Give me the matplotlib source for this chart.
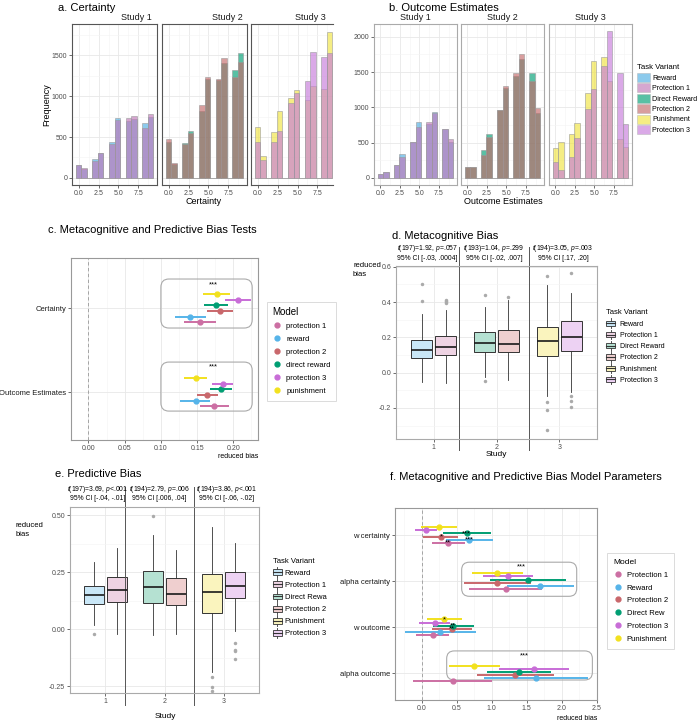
import numpy as np
import matplotlib
matplotlib.use("Agg")
import matplotlib.pyplot as plt
from matplotlib.patches import Patch, FancyBboxPatch, Rectangle
from matplotlib.lines import Line2D
from matplotlib.legend_handler import HandlerBase
from matplotlib.ticker import MultipleLocator, FormatStrFormatter
import matplotlib.transforms as mtransforms

plt.rcParams['font.family'] = ['Liberation Sans', 'DejaVu Sans']
plt.rcParams['mathtext.fontset'] = 'custom'
plt.rcParams['mathtext.it'] = 'Liberation Sans:italic'
plt.rcParams['mathtext.rm'] = 'Liberation Sans'
plt.rcParams['axes.unicode_minus'] = False

W, H = 700, 722

# colours per task variant
C_REWARD = '#4FAEE3'
C_PROT1 = '#C078B8'
C_DIRECT = '#009E73'
C_PROT2 = '#C46A6A'
C_PUNISH = '#F0E442'
C_PROT3 = '#C77CDB'

variants = ['Reward', 'Protection 1', 'Direct Reward', 'Protection 2', 'Punishment', 'Protection 3']
variant_colors = [C_REWARD, C_PROT1, C_DIRECT, C_PROT2, C_PUNISH, C_PROT3]
pale_colors = ['#C9E7F7', '#EED3E3', '#B5E1D2', '#EFCFCF', '#FAF4BE', '#EDD2F3']
# dot colours for the model panels (c, f)
model_colors = ['#CC6FA3', '#56B4E9', '#C9676B', '#009E73', '#C86DD7', '#F2E11E']

# ---- histogram data: counts of each integer response 0..9 ----
response_values = np.arange(10)
cert_reward = [158, 106, 228, 306, 445, 734, 698, 722, 673, 747]
cert_prot1 = [155, 125, 200, 300, 416, 706, 738, 759, 616, 783]
cert_direct = [435, 171, 425, 577, 821, 1215, 1200, 1406, 1321, 1528]
cert_prot2 = [476, 183, 420, 549, 894, 1236, 1210, 1467, 1232, 1423]
cert_punish = [618, 272, 561, 817, 976, 1077, 951, 1122, 1090, 1793]
cert_prot3 = [439, 224, 439, 577, 915, 1037, 1187, 1537, 1480, 1528]

out_reward = [57, 80, 189, 340, 514, 792, 759, 929, 693, 514]
out_prot1 = [52, 85, 185, 302, 505, 722, 797, 925, 690, 552]
out_direct = [151, 151, 391, 623, 962, 1269, 1448, 1679, 1481, 915]
out_prot2 = [151, 151, 325, 575, 962, 1302, 1490, 1755, 1377, 990]
out_punish = [420, 509, 623, 774, 1198, 1660, 1708, 1373, 547, 434]
out_prot3 = [222, 113, 302, 561, 976, 1259, 1585, 2080, 1481, 764]

studies = ['Study 1', 'Study 2', 'Study 3']

# ---- panel c: bias tests (certainty, outcome estimates) ----
models_c = ['protection 1', 'reward', 'protection 2', 'direct reward', 'protection 3', 'punishment']
tests_c = ['Certainty', 'Outcome Estimates']
c_est = [[0.154, 0.1737], [0.140, 0.148], [0.1816, 0.164], [0.1754, 0.183], [0.206, 0.1855], [0.1768, 0.148]]
c_lo = [[0.1316, 0.154], [0.119, 0.127], [0.164, 0.150], [0.159, 0.168], [0.189, 0.171], [0.158, 0.132]]
c_hi = [[0.176, 0.194], [0.162, 0.168], [0.199, 0.179], [0.193, 0.198], [0.224, 0.200], [0.1956, 0.164]]

# ---- panels d/e: boxplot summaries, order = variants ----
box_study = [1, 1, 2, 2, 3, 3]
d_whislo = [-0.051, -0.060, -0.024, -0.041, -0.130, -0.109]
d_q1 = [0.081, 0.100, 0.119, 0.119, 0.096, 0.120]
d_med = [0.128, 0.145, 0.167, 0.164, 0.181, 0.203]
d_q3 = [0.183, 0.207, 0.228, 0.243, 0.256, 0.290]
d_whishi = [0.333, 0.356, 0.369, 0.412, 0.495, 0.453]
d_fliers = [[0.50, 0.406], [0.412, 0.406, 0.399, 0.393], [0.437, -0.045], [0.429],
            [0.546, -0.166, -0.213, -0.326], [0.566, -0.134, -0.158, -0.194]]
d_tests = [r'$t$(197)=1.92, $p$=.057' + '\n95% CI [-.03, .0004]',
           r'$t$(193)=1.04, $p$=.299' + '\n95% CI [-.02, .007]',
           r'$t$(194)=3.05, $p$=.003' + '\n95% CI [.17, .20]']

e_whislo = [0.018, -0.023, -0.025, -0.019, -0.186, -0.006]
e_q1 = [0.110, 0.118, 0.114, 0.107, 0.070, 0.136]
e_med = [0.149, 0.174, 0.187, 0.156, 0.161, 0.190]
e_q3 = [0.189, 0.228, 0.257, 0.224, 0.243, 0.249]
e_whishi = [0.294, 0.357, 0.411, 0.348, 0.449, 0.376]
e_fliers = [[-0.020], [], [0.496], [], [-0.208, -0.253, -0.270], [-0.061, -0.092, -0.096, -0.132]]
e_tests = [r'$t$(197)=3.69, $p$<.001' + '\n95% CI [-.04, -.01]',
           r'$t$(194)=2.79, $p$=.006' + '\n95% CI [.006, .04]',
           r'$t$(194)=3.86, $p$<.001' + '\n95% CI [-.06, -.02]']
e_legend_labels = ['Reward', 'Protection 1', 'Direct Rewa', 'Protection 2', 'Punishment', 'Protection 3']

# ---- panel f: model parameters ----
params_f = ['w certainty', 'alpha certainty', 'w outcome', 'alpha outcome']
models_f = ['Protection 1', 'Reward', 'Protection 2', 'Direct Rew', 'Protection 3', 'Punishment']
f_est = [[0.381, 1.200, 0.157, 0.452], [0.676, 1.690, 0.267, 1.633], [0.276, 1.081, 0.429, 1.333],
         [0.643, 1.514, 0.452, 1.390], [0.062, 1.233, 0.186, 1.605], [0.243, 1.081, 0.319, 0.752]]
f_lo = [[0.152, 0.681, -0.081, -0.119], [0.348, 1.214, -0.238, 0.890], [0.019, 0.605, 0.143, 0.786],
        [0.310, 0.976, 0.167, 0.929], [-0.095, 0.881, -0.033, 1.105], [-0.010, 0.724, 0.071, 0.395]]
f_hi = [[0.614, 1.724, 0.395, 1.010], [1.014, 2.176, 0.776, 2.371], [0.524, 1.557, 0.714, 1.886],
        [0.986, 2.057, 0.752, 1.852], [0.214, 1.586, 0.405, 2.110], [0.510, 1.443, 0.571, 1.124]]
# significance stars: (parameter index, model index, label)
f_stars = [(0, 3, '***'), (0, 1, '***'), (0, 2, '*'), (0, 0, '**'),
           (2, 5, '*'), (2, 3, '**'), (2, 2, '**')]

fig = plt.figure(figsize=(W / 100, H / 100), dpi=100)


def px_axes(x0, y0, x1, y1):
    return fig.add_axes([x0 / W, 1 - y1 / H, (x1 - x0) / W, (y1 - y0) / H])


def ftext(x, y, s, **kw):
    fig.text(x / W, 1 - y / H, s, **kw)


def style_axes(ax, spine_color='#999999'):
    for s in ax.spines.values():
        s.set_color(spine_color)
        s.set_linewidth(0.8)
    ax.tick_params(which='both', labelsize=5, labelcolor='#4D4D4D', length=2, width=0.5,
                   color='#333333', pad=1.5)
    ax.tick_params(which='minor', length=0)
    ax.set_axisbelow(True)
    ax.grid(which='major', color='#E8E8E8', lw=0.6)
    ax.grid(which='minor', color='#F4F4F4', lw=0.4)


# ================= panels a and b: histograms =================
bin_edges = np.linspace(-9 / 26, 9 + 9 / 26, 15)
HIST_ALPHA = 0.65


def hist_row(boxes, series, ylim, ymajor, spine_color, right_cut=False):
    axes = []
    for k, (x0, x1) in enumerate(boxes):
        ax = px_axes(x0, 24, x1, 185)
        style_axes(ax, spine_color)
        for vals, col in series[k]:
            ax.hist(response_values, bins=bin_edges, weights=vals, color=col, alpha=HIST_ALPHA,
                    edgecolor=(0.6, 0.6, 0.6, 0.5), linewidth=0.6)
        ax.set_ylim(*ylim)
        ax.set_xlim(-0.83, 9.83)
        ax.xaxis.set_major_locator(MultipleLocator(2.5))
        ax.xaxis.set_minor_locator(MultipleLocator(1.25))
        ax.xaxis.set_major_formatter(FormatStrFormatter('%.1f'))
        ax.yaxis.set_major_locator(MultipleLocator(ymajor))
        ax.yaxis.set_minor_locator(MultipleLocator(ymajor / 2))
        if k > 0:
            ax.tick_params(axis='y', which='both', left=False, labelleft=False)
        axes.append(ax)
    if right_cut:
        axes[-1].set_xlim(-0.83, 9.45)
        axes[-1].spines['right'].set_visible(False)
    return axes


a_series = [[(cert_reward, C_REWARD), (cert_prot1, C_PROT1)],
            [(cert_direct, C_DIRECT), (cert_prot2, C_PROT2)],
            [(cert_punish, C_PUNISH), (cert_prot3, C_PROT3)]]
b_series = [[(out_reward, C_REWARD), (out_prot1, C_PROT1)],
            [(out_direct, C_DIRECT), (out_prot2, C_PROT2)],
            [(out_punish, C_PUNISH), (out_prot3, C_PROT3)]]

hist_row([(72, 157), (162, 247), (251, 333)], a_series, (-88, 1885), 500, '#555555', right_cut=True)
hist_row([(374, 457), (461, 544), (549, 632)], b_series, (-100, 2182), 500, '#AAAAAA')

for xr, s in zip([152, 243, 326], studies):
    ftext(xr, 17, s, ha='right', va='center', fontsize=6.5, color='#1A1A1A')
for xc, s in zip([415, 502, 590], studies):
    ftext(xc, 17, s, ha='center', va='center', fontsize=6.5, color='#1A1A1A')

ftext(58, 8, 'a. Certainty', fontsize=8, va='center')
ftext(389, 8, 'b. Outcome Estimates', fontsize=8, va='center')
ftext(47, 105, 'Frequency', fontsize=6.5, rotation=90, ha='center', va='center')
ftext(204, 201, 'Certainty', fontsize=6.5, ha='center', va='center')
ftext(503, 201, 'Outcome Estimates', fontsize=6.5, ha='center', va='center')

hist_handles = [Patch(facecolor=c, alpha=HIST_ALPHA, edgecolor=(0.7, 0.7, 0.7), lw=0.5)
                for c in variant_colors]
leg = fig.legend(hist_handles, variants, loc='upper left', bbox_to_anchor=(636 / W, 1 - 63 / H),
                 frameon=False, fontsize=5.1, title='Task Variant', title_fontsize=5.6,
                 handlelength=1.75, handleheight=1.55, labelspacing=0.22, handletextpad=0.35,
                 borderpad=0.2, borderaxespad=0)
leg._legend_box.align = 'left'


# ================= forest plots (c and f) =================
def rounded_box(ax, x0, x1, y0, y1, rad, aspect):
    ax.add_patch(FancyBboxPatch((x0, y0), x1 - x0, y1 - y0,
                                boxstyle='round,pad=0,rounding_size=%f' % rad,
                                mutation_aspect=aspect, facecolor='none',
                                edgecolor='#AAAAAA', lw=0.8, zorder=1))


# ---- panel c ----
axc = px_axes(71, 258, 258, 440)
style_axes(axc)
c_cat_y = [2, 1]
c_off = (np.arange(6) - 2.5) * 0.0675
for i, col in enumerate(model_colors):
    ys = np.array(c_cat_y) + c_off[i]
    axc.hlines(ys, c_lo[i], c_hi[i], color=col, lw=1.4, zorder=3)
    axc.plot(c_est[i], ys, 'o', color=col, ms=3.5, zorder=4)
axc.axvline(0, color='#999999', lw=0.6, ls=(0, (4, 3)), zorder=2)
rounded_box(axc, 0.100, 0.226, 1.762, 2.345, 0.011, 9.0)
rounded_box(axc, 0.100, 0.226, 0.774, 1.357, 0.011, 9.0)
axc.text(0.172, 2.27, '***', ha='center', va='center', fontsize=5.5)
axc.text(0.172, 1.30, '***', ha='center', va='center', fontsize=5.5)
axc.set_xlim(-0.024, 0.234)
axc.set_ylim(0.43, 2.595)
axc.xaxis.set_major_locator(MultipleLocator(0.05))
axc.xaxis.set_minor_locator(MultipleLocator(0.025))
axc.xaxis.set_major_formatter(FormatStrFormatter('%.2f'))
axc.set_yticks(c_cat_y)
axc.set_yticklabels(tests_c, fontsize=5.5, color='#1A1A1A')
ftext(48, 230, 'c. Metacognitive and Predictive Bias Tests', fontsize=8, va='center')
ftext(238, 457, 'reduced bias', fontsize=5, ha='center', va='center')

c_handles = [Line2D([], [], marker='o', ls='', color=c, ms=3.5) for c in model_colors]
leg = fig.legend(c_handles, models_c, loc='upper left', bbox_to_anchor=(267 / W, 1 - 302 / H),
                 fontsize=5.5, title='Model', title_fontsize=7, frameon=True, fancybox=False,
                 edgecolor='#CCCCCC', handlelength=1.2, handleheight=1.0, labelspacing=0.65,
                 handletextpad=0.6, borderpad=0.7, borderaxespad=0)
leg.get_frame().set_linewidth(0.6)
leg._legend_box.align = 'left'

# ---- panel f ----
axf = px_axes(395, 508, 597, 700)
style_axes(axf)
f_cat_y = [4, 3, 2, 1]
f_off = (np.arange(6) - 2.5) * 0.067
for i, col in enumerate(model_colors):
    ys = np.array(f_cat_y) + f_off[i]
    axf.hlines(ys, f_lo[i], f_hi[i], color=col, lw=1.4, zorder=3)
    axf.plot(f_est[i], ys, 'o', color=col, ms=3.5, zorder=4)
for p, m, lab in f_stars:
    axf.text(f_est[m][p], f_cat_y[p] + f_off[m] - 0.035, lab, ha='center', va='baseline',
             fontsize=5.5, zorder=5)
axf.axvline(0, color='#999999', lw=0.6, ls=(0, (4, 3)), zorder=2)
rounded_box(axf, 0.571, 2.214, 2.67, 3.41, 0.11, 1.52)
rounded_box(axf, 0.357, 2.438, 0.854, 1.485, 0.11, 1.52)
axf.text(1.419, 3.31, '***', ha='center', va='center', fontsize=5.5)
axf.text(1.467, 1.38, '***', ha='center', va='center', fontsize=5.5)
axf.set_xlim(-0.381, 2.504)
axf.set_ylim(0.42, 4.586)
axf.xaxis.set_major_locator(MultipleLocator(0.5))
axf.xaxis.set_minor_locator(MultipleLocator(0.25))
axf.xaxis.set_major_formatter(FormatStrFormatter('%.1f'))
axf.set_yticks(f_cat_y)
axf.set_yticklabels(params_f, fontsize=5.5, color='#1A1A1A')
ftext(390, 477, 'f. Metacognitive and Predictive Bias Model Parameters', fontsize=8, va='center')
ftext(577, 718, 'reduced bias', fontsize=5, ha='center', va='center')

f_handles = [Line2D([], [], marker='o', ls='', color=c, ms=3.5) for c in model_colors]
leg = fig.legend(f_handles, models_f, loc='upper left', bbox_to_anchor=(607 / W, 1 - 553 / H),
                 fontsize=5.5, title='Model', title_fontsize=6, frameon=True, fancybox=False,
                 edgecolor='#CCCCCC', handlelength=1.2, handleheight=1.0, labelspacing=0.62,
                 handletextpad=0.6, borderpad=0.8, borderaxespad=0)
leg.get_frame().set_linewidth(0.6)
leg._legend_box.align = 'left'


# ================= boxplots (d and e) =================
class BoxKey(HandlerBase):
    def create_artists(self, legend, orig_handle, xdescent, ydescent, width, height, fontsize, trans):
        fc = orig_handle.get_facecolor()
        ec = orig_handle.get_edgecolor()
        x0, y0 = -xdescent, -ydescent
        cx = x0 + width / 2
        whisk = Line2D([cx, cx], [y0 - 0.15 * height, y0 + 1.15 * height], color=ec, lw=0.6,
                       transform=trans)
        box = Rectangle((x0, y0 + 0.15 * height), width, 0.7 * height, facecolor=fc, edgecolor=ec,
                        lw=0.6, transform=trans)
        med = Line2D([x0, x0 + width], [y0 + 0.5 * height] * 2, color=ec, lw=0.8, transform=trans)
        return [whisk, box, med]


def box_panel(rect, whislo, q1, med, q3, whishi, fliers, ylim, ymajor, yfmt, seps, tests, test_y):
    ax = px_axes(*rect)
    style_axes(ax, '#AAAAAA')
    stats = []
    for i in range(6):
        stats.append(dict(med=med[i], q1=q1[i], q3=q3[i], whislo=whislo[i], whishi=whishi[i],
                          fliers=fliers[i]))
    pos = [s + (-0.19 if i % 2 == 0 else 0.19) for i, s in enumerate(box_study)]
    res = ax.bxp(stats, positions=pos, widths=0.34, patch_artist=True, showcaps=False,
                 boxprops=dict(edgecolor='#333333', lw=0.7),
                 whiskerprops=dict(color='#333333', lw=0.6),
                 medianprops=dict(color='#1A1A1A', lw=1.2),
                 flierprops=dict(marker='o', markersize=2.5, markerfacecolor='#AAAAAA',
                                 markeredgecolor='none'))
    for b, c in zip(res['boxes'], pale_colors):
        b.set_facecolor(c)
    ax.set_xlim(0.4, 3.6)
    ax.set_ylim(*ylim)
    ax.set_xticks([1, 2, 3])
    ax.set_xticklabels(['1', '2', '3'])
    ax.yaxis.set_major_locator(MultipleLocator(ymajor))
    ax.yaxis.set_minor_locator(MultipleLocator(ymajor / 2))
    ax.yaxis.set_major_formatter(FormatStrFormatter(yfmt))
    tr = mtransforms.blended_transform_factory(ax.transData, ax.transAxes)
    for sx in seps:
        ax.plot([sx, sx], [-0.065, 1.11], color='#555555', lw=0.7, transform=tr, clip_on=False)
    bounds = [0.4] + list(seps) + [3.6]
    for k, t in enumerate(tests):
        ax.text((bounds[k] + bounds[k + 1]) / 2, test_y, t, transform=tr, ha='center', va='bottom',
                fontsize=4.9, linespacing=1.15)
    return ax


axd = box_panel((396, 266, 597, 439), d_whislo, d_q1, d_med, d_q3, d_whishi, d_fliers,
                (-0.376, 0.604), 0.2, '%.1f', [1.40, 2.517], d_tests, 1.025)
ftext(392, 236, 'd. Metacognitive Bias', fontsize=8, va='center')
ftext(353, 262, 'reduced\nbias', fontsize=5.5, va='top', linespacing=1.3)
ftext(496, 454, 'Study', fontsize=6, ha='center', va='center')
box_handles = [Patch(facecolor=c, edgecolor='#333333') for c in pale_colors]
leg = fig.legend(box_handles, variants, handler_map={Patch: BoxKey()}, loc='upper left',
                 bbox_to_anchor=(605 / W, 1 - 308 / H), frameon=False, fontsize=5,
                 title='Task Variant', title_fontsize=5.5, handlelength=1.3, handleheight=1.3,
                 labelspacing=0.45, handletextpad=0.6, borderpad=0.2, borderaxespad=0)
leg._legend_box.align = 'left'

axe = box_panel((70, 507, 259, 693), e_whislo, e_q1, e_med, e_q3, e_whishi, e_fliers,
                (-0.28, 0.536), 0.25, '%.2f', [1.336, 2.5], e_tests, 1.025)
ftext(55, 474, 'e. Predictive Bias', fontsize=8, va='center')
ftext(16, 522, 'reduced\nbias', fontsize=5.5, va='top', linespacing=1.3)
ftext(165, 717, 'Study', fontsize=6, ha='center', va='center')
leg = fig.legend(box_handles, e_legend_labels, handler_map={Patch: BoxKey()}, loc='upper left',
                 bbox_to_anchor=(271 / W, 1 - 556 / H), frameon=False, fontsize=5.5,
                 title='Task Variant', title_fontsize=5.5, handlelength=1.3, handleheight=1.3,
                 labelspacing=0.45, handletextpad=0.3, borderpad=0.2, borderaxespad=0)
leg._legend_box.align = 'left'

fig.savefig('out.png', dpi=100)
